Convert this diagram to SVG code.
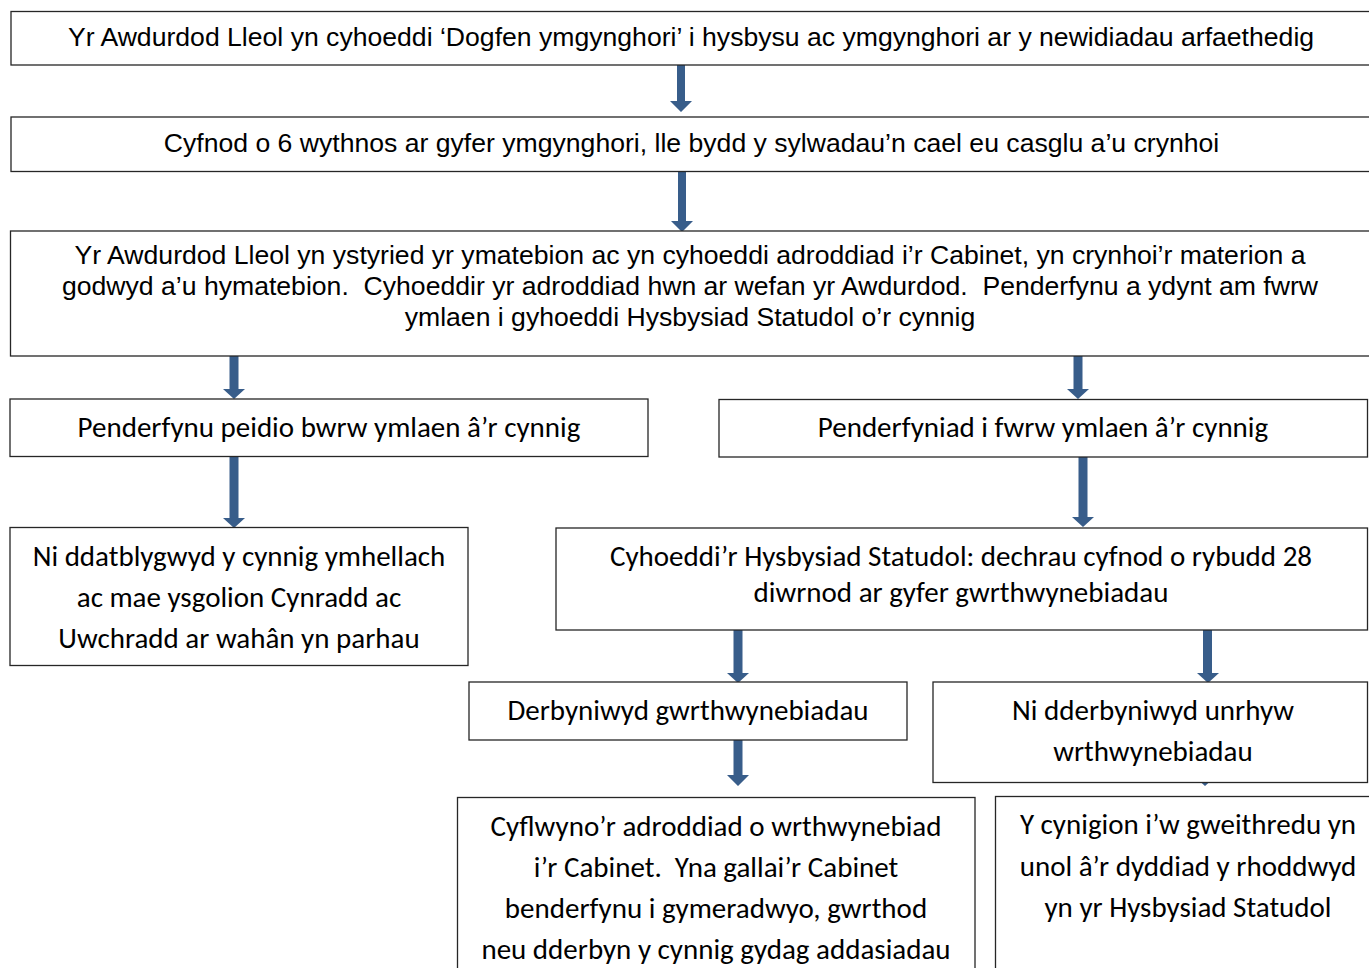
<svg xmlns="http://www.w3.org/2000/svg" width="1369" height="968" viewBox="0 0 1369 968">
<style>
.box{fill:#fff;stroke:#262626;stroke-width:1.3}
.a{font-family:"Liberation Sans",Arial,sans-serif;font-size:26.6px;fill:#000;text-anchor:middle;white-space:pre}
.c{font-family:Carlito,Lato,"Open Sans",sans-serif;font-size:29px;fill:#000;text-anchor:middle;white-space:pre}
.arr{fill:#385d8a}
</style>
<rect width="1369" height="968" fill="#fff"/>
<g id="connectors">
<path class="arr" d="M677,64 L685,64 L685,101 L692,101 L681,112 L670,101 L677,101 Z"/>
<path class="arr" d="M678,169 L686,169 L686,221 L693,221 L682,232 L671,221 L678,221 Z"/>
<path class="arr" d="M229.5,353 L238.5,353 L238.5,389 L245,389 L234,399 L223,389 L229.5,389 Z"/>
<path class="arr" d="M1073.5,353 L1082.5,353 L1082.5,389 L1089,389 L1078,399 L1067,389 L1073.5,389 Z"/>
<path class="arr" d="M229.5,456 L238.5,456 L238.5,518 L245,518 L234,528 L223,518 L229.5,518 Z"/>
<path class="arr" d="M1078.5,455 L1087.5,455 L1087.5,517 L1094,517 L1083,527 L1072,517 L1078.5,517 Z"/>
<path class="arr" d="M733.5,629 L742.5,629 L742.5,673 L749,673 L738,683 L727,673 L733.5,673 Z"/>
<path class="arr" d="M1203,629 L1212,629 L1212,673 L1219,673 L1208,683 L1197,673 L1203,673 Z"/>
<path class="arr" d="M733.5,739 L742.5,739 L742.5,775 L749,775 L738,786 L727,775 L733.5,775 Z"/>
<path class="arr" d="M1200.5,772 L1209.5,772 L1209.5,776 L1216,776 L1205,786 L1194,776 L1200.5,776 Z"/>
</g>
<g id="n1">
<rect class="box" x="11" y="11.5" width="1380" height="53.5"/>
<text class="a" x="691" y="46">Yr Awdurdod Lleol yn cyhoeddi ‘Dogfen ymgynghori’ i hysbysu ac ymgynghori ar y newidiadau arfaethedig</text>
</g>
<g id="n2">
<rect class="box" x="11" y="117" width="1380" height="54.5"/>
<text class="a" x="691.5" y="152">Cyfnod o 6 wythnos ar gyfer ymgynghori, lle bydd y sylwadau’n cael eu casglu a’u crynhoi</text>
</g>
<g id="n3">
<rect class="box" x="10.5" y="231" width="1380" height="125"/>
<text class="a" x="690" y="264">Yr Awdurdod Lleol yn ystyried yr ymatebion ac yn cyhoeddi adroddiad i’r Cabinet, yn crynhoi’r materion a</text>
<text class="a" x="690" y="295">godwyd a’u hymatebion.  Cyhoeddir yr adroddiad hwn ar wefan yr Awdurdod.  Penderfynu a ydynt am fwrw</text>
<text class="a" x="690" y="326">ymlaen i gyhoeddi Hysbysiad Statudol o’r cynnig</text>
</g>
<g id="n4">
<rect class="box" x="10" y="399" width="638" height="57.5"/>
<text class="c" x="329" y="437">Penderfynu peidio bwrw ymlaen â’r cynnig</text>
</g>
<g id="n5">
<rect class="box" x="719" y="399.5" width="648.5" height="57.5"/>
<text class="c" x="1043" y="437">Penderfyniad i fwrw ymlaen â’r cynnig</text>
</g>
<g id="n6">
<rect class="box" x="10" y="527.5" width="458" height="138"/>
<text class="c" x="239" y="566">Ni ddatblygwyd y cynnig ymhellach</text>
<text class="c" x="239" y="607">ac mae ysgolion Cynradd ac</text>
<text class="c" x="239" y="648">Uwchradd ar wahân yn parhau</text>
</g>
<g id="n7">
<rect class="box" x="556" y="528" width="811.5" height="102"/>
<text class="c" x="961" y="566">Cyhoeddi’r Hysbysiad Statudol: dechrau cyfnod o rybudd 28</text>
<text class="c" x="961" y="602">diwrnod ar gyfer gwrthwynebiadau</text>
</g>
<g id="n8">
<rect class="box" x="469" y="682" width="438" height="58"/>
<text class="c" x="688" y="720">Derbyniwyd gwrthwynebiadau</text>
</g>
<g id="n9">
<rect class="box" x="933" y="682" width="434.5" height="100.5"/>
<text class="c" x="1153" y="720">Ni dderbyniwyd unrhyw</text>
<text class="c" x="1153" y="761">wrthwynebiadau</text>
</g>
<g id="n10">
<rect class="box" x="457.5" y="797.5" width="517.5" height="190"/>
<text class="c" x="716" y="836">Cyflwyno’r adroddiad o wrthwynebiad</text>
<text class="c" x="716" y="877">i’r Cabinet.  Yna gallai’r Cabinet</text>
<text class="c" x="716" y="918">benderfynu i gymeradwyo, gwrthod</text>
<text class="c" x="716" y="959">neu dderbyn y cynnig gydag addasiadau</text>
</g>
<g id="n11">
<rect class="box" x="995.5" y="796.5" width="380" height="190"/>
<text class="c" x="1188" y="834">Y cynigion i’w gweithredu yn</text>
<text class="c" x="1188" y="876">unol â’r dyddiad y rhoddwyd</text>
<text class="c" x="1188" y="917">yn yr Hysbysiad Statudol</text>
</g>
</svg>
